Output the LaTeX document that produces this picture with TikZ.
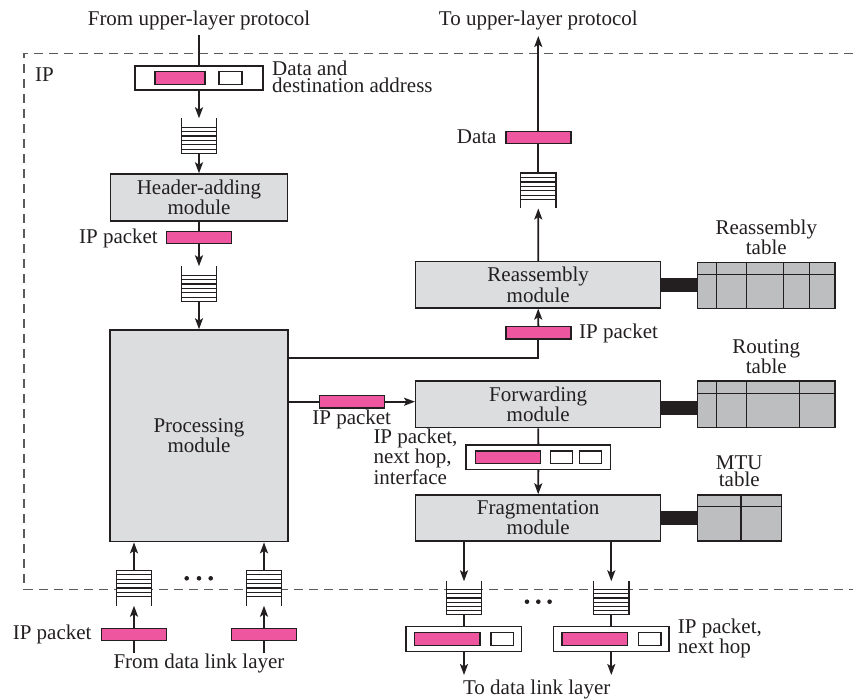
\documentclass[tikz,border=0pt]{standalone}
\usepackage{fontspec}
\setmainfont{Liberation Serif}
\usetikzlibrary{arrows.meta,calc}
\definecolor{ink}{HTML}{231F20}
\definecolor{pinkc}{HTML}{EE579F}
\definecolor{modgray}{HTML}{DCDDDF}
\definecolor{tblgray}{HTML}{BDBEC0}
\definecolor{dashgray}{HTML}{5A5B5D}
\newcommand{\queueOT}[1]{%
  \fill[white] (#1.south west) rectangle ($(#1.south east)!0.75!(#1.north east)$);
  \draw[qline] (#1.north west) -- (#1.south west) -- (#1.south east) -- (#1.north east);
  \foreach \f in {0.125,0.25,0.375,0.5,0.625,0.75}
    \draw[qline] ($(#1.south west)!\f!(#1.north west)$) -- ($(#1.south east)!\f!(#1.north east)$);
}
\newcommand{\queueOB}[1]{%
  \fill[white] (#1.north west) rectangle ($(#1.north east)!0.75!(#1.south east)$);
  \draw[qline] (#1.south west) -- (#1.north west) -- (#1.north east) -- (#1.south east);
  \foreach \f in {0.125,0.25,0.375,0.5,0.625,0.75}
    \draw[qline] ($(#1.north west)!\f!(#1.south west)$) -- ($(#1.north east)!\f!(#1.south east)$);
}
\begin{document}
\begin{tikzpicture}[x=1pt,y=-1pt,
  font=\fontsize{21}{17.5}\selectfont,
  module/.style={draw=ink, fill=modgray, line width=1.4pt, inner sep=0pt, align=center, text=ink},
  pk/.style={draw=ink, fill=pinkc, line width=1.4pt, minimum width=65pt, minimum height=12.5pt, inner sep=0pt},
  wbox/.style={draw=ink, fill=white, line width=1.4pt, inner sep=0pt},
  tbl/.style={draw=ink, fill=tblgray, line width=1.4pt, inner sep=0pt},
  tl/.style={draw=ink, line width=1.4pt},
  qnode/.style={minimum width=35pt, minimum height=35pt, inner sep=0pt},
  qline/.style={draw=ink, line width=1.2pt},
  ln/.style={draw=ink, line width=1.9pt},
  arr/.style={draw=ink, line width=1.9pt, -{Stealth[length=11pt,width=8pt,inset=2.5pt]}},
  lbl/.style={inner sep=0pt, text=ink},
  link/.style={draw=ink, line width=14pt},
  dashbox/.style={draw=dashgray, line width=1.4pt, dash pattern=on 9pt off 6pt},
  dot/.style={fill=ink}
]
\useasboundingbox (0,0) rectangle (853,700);
\draw[dashbox] (853,53.3) -- (24,53.3) -- (24,589.3) -- (853,589.3);

% ---------- top left: from upper layer ----------
\node[lbl, anchor=base] (tFrom) at (199,25.7) {From upper-layer protocol};
\node[lbl, anchor=base west] (tIP) at (35,81.7) {IP};
\coordinate (cFrom) at (199,35);
\node[wbox, minimum width=128pt, minimum height=24pt] (dbox) at (199,78) {};
\node[pk, minimum width=50pt] (dpk) at (180,78) {};
\node[wbox, minimum width=23pt, minimum height=12.5pt] (daddr) at (230.5,78) {};
\node[lbl, anchor=base west, align=left] (tData) at (272,92.7) {Data and\\destination address};
\node[qnode] (qa) at (199,136) {};
\queueOT{qa}
\node[module, minimum width=177pt, minimum height=47pt] (hdr) at (199,197.5) {Header-adding\\module};
\node[pk] (pk1) at (199,237.5) {};
\node[lbl, anchor=base east] (tpk1) at (158,243.3) {IP packet};
\node[qnode] (qb) at (199,284) {};
\queueOT{qb}
\node[module, minimum width=177.7pt, minimum height=211.7pt] (proc) at (199,435.8) {Processing\\module};

\draw[ln] (cFrom) -- (dbox.north);
\draw[arr] (dbox.south) -- (qa.north);
\draw[arr] (qa.south) -- (hdr.north);
\draw[ln] (hdr.south) -- (pk1.north);
\draw[arr] (pk1.south) -- (qb.north);
\draw[arr] (qb.south) -- (proc.north);

% ---------- reassembly path ----------
\node[lbl, anchor=base] (tTo) at (538.3,25.7) {To upper-layer protocol};
\coordinate (cTo) at (538.3,36);
\node[pk] (pkD) at (538.3,137.5) {};
\node[lbl, anchor=base east] (tD) at (496.7,143.3) {Data};
\node[qnode] (qr) at (538.3,190.8) {};
\queueOB{qr}
\node[module, minimum width=245pt, minimum height=46.3pt] (reasm) at (538.2,284.8) {Reassembly\\module};
\draw[arr] (reasm.north) -- (qr.south);
\draw[ln] (qr.north) -- (pkD.south);
\draw[arr] (pkD.north) -- (cTo);

\node[tbl, minimum width=137.3pt, minimum height=46pt] (rtab) at (766.3,285.3) {};
\draw[tl] (697.7,274.3) -- (835,274.3);
\foreach \x in {716.7,746.7,783.3,809.3} \draw[tl] (\x,262.3) -- (\x,308.3);
\node[lbl, align=center, anchor=base] (tRt) at (766.3,255) {Reassembly\\table};
\draw[link] (reasm.east) -- (reasm.east -| rtab.west);

\node[pk] (pkR) at (538.3,332.8) {};
\node[lbl, anchor=base west] (tpkR) at (579,338.3) {IP packet};
\coordinate (cR) at (538.3,358.3);
\draw[ln] (cR -| proc.east) -- (cR) -- (pkR.south);
\draw[arr] (pkR.north) -- (reasm.south);

% ---------- forwarding ----------
\node[module, minimum width=245pt, minimum height=46.7pt] (fwd) at (538.2,404.3) {Forwarding\\module};
\node[pk] (pkF) at (351.8,401.7) {};
\node[lbl, anchor=base] (tpkF) at (351.7,424) {IP packet};
\draw[ln] (pkF.west -| proc.east) -- (pkF.west);
\draw[arr] (pkF.east) -- (pkF.east -| fwd.west);
\node[tbl, minimum width=137.3pt, minimum height=46.7pt] (rotab) at (766.3,404.3) {};
\draw[tl] (697.7,393.3) -- (835,393.3);
\foreach \x in {716.7,746.7,799.3} \draw[tl] (\x,381) -- (\x,427.7);
\node[lbl, align=center, anchor=base] (tRo) at (766.3,373.3) {Routing\\table};
\draw[link] ([yshift=-3.7pt]fwd.east) -- ([yshift=-3.7pt]fwd.east -| rotab.west);

\node[wbox, minimum width=144.7pt, minimum height=24.3pt] (fbox) at (538.3,457.2) {};
\node[pk] (fpk) at (507.8,457.2) {};
\node[wbox, minimum width=22pt, minimum height=12.3pt] (fw1) at (561.3,457.2) {};
\node[wbox, minimum width=22pt, minimum height=12.3pt] (fw2) at (590.2,457.2) {};
\node[lbl, align=left, anchor=base west] (tfb) at (373.3,484) {IP packet,\\next hop,\\interface};

% ---------- fragmentation ----------
\node[module, minimum width=245pt, minimum height=46pt] (frag) at (538.2,518) {Fragmentation\\module};
\draw[ln] (fwd.south) -- (fbox.north);
\draw[arr] (fbox.south) -- (frag.north);
\node[tbl, minimum width=84pt, minimum height=46pt] (mtab) at (739.7,518) {};
\draw[tl] (697.7,506.7) -- (781.7,506.7);
\draw[tl] (741,495) -- (741,541);
\node[lbl, align=center, anchor=base] (tM) at (739.3,486.7) {MTU\\table};
\draw[link] (frag.east) -- (frag.east -| mtab.west);

% ---------- bottom right: to data link ----------
\node[qnode, minimum height=33pt] (qo1) at (464,598) {};
\queueOT{qo1}
\node[qnode, minimum height=33pt] (qo2) at (611.3,598) {};
\queueOT{qo2}
\draw[arr] (qo1.north |- frag.south) -- (qo1.north);
\draw[arr] (qo2.north |- frag.south) -- (qo2.north);
\foreach \x in {527,538.3,549.6} \fill[dot] (\x,601.7) circle (2.3pt);

\node[wbox, minimum width=115.7pt, minimum height=25pt] (ob1) at (463.8,639.2) {};
\node[pk, minimum width=65.7pt, minimum height=13pt] (ob1p) at (447.2,639.2) {};
\node[wbox, minimum width=22.3pt, minimum height=13pt] (ob1w) at (502.2,639.2) {};
\node[wbox, minimum width=115.7pt, minimum height=25pt] (ob2) at (611.2,639.2) {};
\node[pk, minimum width=65.7pt, minimum height=13pt] (ob2p) at (594.7,639.2) {};
\node[wbox, minimum width=22.3pt, minimum height=13pt] (ob2w) at (649.7,639.2) {};
\coordinate (cDL1) at (464,675);
\coordinate (cDL2) at (611.3,675);
\draw[ln] (qo1.south) -- (qo1.south |- ob1.north);
\draw[ln] (qo2.south) -- (qo2.south |- ob2.north);
\draw[arr] (cDL1 |- ob1.south) -- (cDL1);
\draw[arr] (cDL2 |- ob2.south) -- (cDL2);
\node[lbl, anchor=base] (tTDL) at (536.7,694.3) {To data link layer};
\node[lbl, align=left, anchor=base west] (tob2) at (677.7,653.3) {IP packet,\\next hop};

% ---------- bottom left: from data link ----------
\node[qnode] (qin1) at (134,588) {};
\queueOB{qin1}
\node[qnode] (qin2) at (264,588) {};
\queueOB{qin2}
\draw[arr] (qin1.north) -- (qin1.north |- proc.south);
\draw[arr] (qin2.north) -- (qin2.north |- proc.south);
\foreach \x in {186.7,199,210.7} \fill[dot] (\x,578.3) circle (2.3pt);
\node[pk] (pin1) at (134,634.5) {};
\node[pk] (pin2) at (264,634.5) {};
\coordinate (cDLi1) at (134,653.3);
\coordinate (cDLi2) at (264,653.3);
\draw[ln] (cDLi1) -- (pin1.south);
\draw[ln] (cDLi2) -- (pin2.south);
\draw[arr] (pin1.north) -- (qin1.south);
\draw[arr] (pin2.north) -- (qin2.south);
\node[lbl, anchor=base east] (tpin) at (91.7,639.3) {IP packet};
\node[lbl, anchor=base] (tFDL) at (199,668.3) {From data link layer};
\end{tikzpicture}
\end{document}
